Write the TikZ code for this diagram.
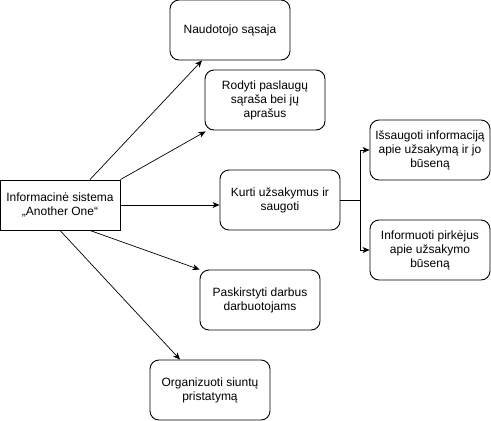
\documentclass[tikz,border=0pt]{standalone}
\usepackage{fontspec}
\setmainfont{Liberation Sans}
\usetikzlibrary{arrows.meta}
\begin{document}
\begin{tikzpicture}[x=1pt,y=-1pt,
  box/.style={draw,line width=0.9pt,rounded corners=9pt,minimum width=120pt,minimum height=60pt,align=center,font=\fontsize{12}{14}\selectfont,inner sep=2pt},
  mainbox/.style={draw,line width=0.9pt,minimum width=120pt,minimum height=50pt,align=center,font=\fontsize{12}{14}\selectfont,inner sep=2pt},
  conn/.style={line width=0.7pt,-{Stealth[length=7pt,width=6pt,inset=2pt]}}]
\useasboundingbox (0,0) rectangle (491,421);
\node[mainbox] (main) at (60,205) {Informacinė sistema\\„Another One“};
\node[box] (nau) at (230,30) {Naudotojo sąsaja};
\node[box] (rod) at (265,100) {Rodyti paslaugų\\sąraša bei jų\\aprašus};
\node[box] (kur) at (280,200) {Kurti užsakymus ir\\saugoti};
\node[box] (isa) at (430,150) {Išsaugoti informaciją\\apie užsakymą ir jo\\būseną};
\node[box] (inf) at (430,250) {Informuoti pirkėjus\\apie užsakymo\\būseną};
\node[box] (pas) at (260,300) {Paskirstyti darbus\\darbuotojams};
\node[box] (org) at (210,390) {Organizuoti siuntų\\pristatymą};
\draw[conn] ([xshift=30pt]main.north) -- ([xshift=-28pt]nau.south);
\draw[conn] (main.north east) -- ([xshift=1pt,yshift=-1pt]rod.south west);
\draw[conn] (main.east) -- (kur.west |- main.east);
\draw[conn] ([xshift=30pt]main.south) -- (pas.north west);
\draw[conn] (main.south) -- ([xshift=-30pt]org.north);
\draw[conn] (kur.east) -- ++(20,0) |- (isa.west);
\draw[conn] (kur.east) -- ++(20,0) |- (inf.west);
\end{tikzpicture}
\end{document}
